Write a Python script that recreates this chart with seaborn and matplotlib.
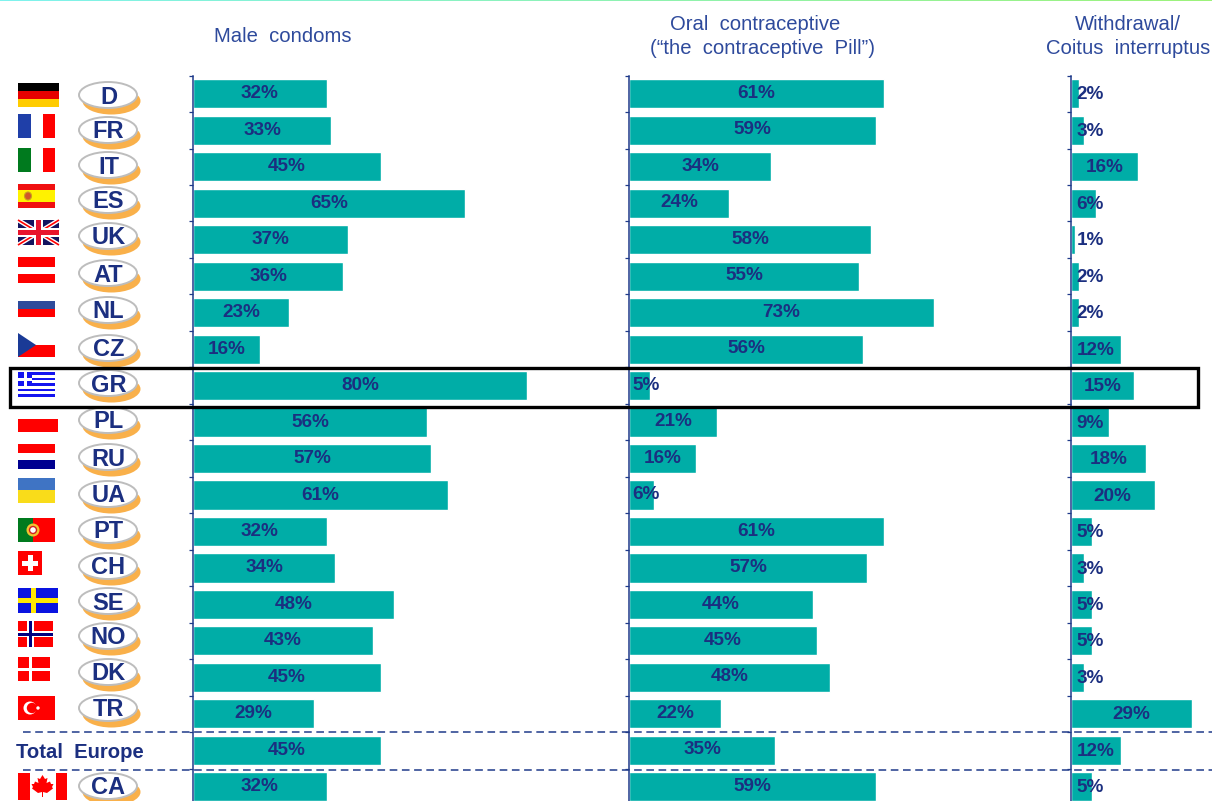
import numpy as np
import pandas as pd
import matplotlib
matplotlib.use("Agg")
import matplotlib.pyplot as plt
from matplotlib.patches import Rectangle, Ellipse, Polygon, Circle
import seaborn as sns

# Survey shares per country, percent
codes = ["D", "FR", "IT", "ES", "UK", "AT", "NL", "CZ", "GR", "PL", "RU", "UA",
         "PT", "CH", "SE", "NO", "DK", "TR", "Total Europe", "CA"]
male_condoms = [32, 33, 45, 65, 37, 36, 23, 16, 80, 56, 57, 61, 32, 34, 48, 43, 45, 29, 45, 32]
oral_pill = [61, 59, 34, 24, 58, 55, 73, 56, 5, 21, 16, 6, 61, 57, 44, 45, 48, 22, 35, 59]
withdrawal = [2, 3, 16, 6, 1, 2, 2, 12, 15, 9, 18, 20, 5, 3, 5, 5, 3, 29, 12, 5]

badge_y = [95, 130, 165, 200, 236, 273, 310, 348, 383, 420, 457, 494, 530, 566, 601, 636, 672, 708, None, 786]

TEAL = "#00ADA7"
NAVY = "#1B2F80"
HEAD = "#2E4A9C"
AXIS = "#1F3A8A"

W, H = 1212, 801
PX_PER_PCT = 4.18
TOP, ROW = 75.6, 36.47

sns.set_theme(style="white")
plt.rcParams["font.family"] = ["Liberation Sans", "DejaVu Sans"]

fig = plt.figure(figsize=(W / 100, H / 100), dpi=100, facecolor="white")


def panel(values, x0, x1, min_label_x, label_shift):
    bottom = TOP + ROW * len(codes)
    ax = fig.add_axes([x0 / W, 1 - bottom / H, (x1 - x0) / W, (bottom - TOP) / H])
    df = pd.DataFrame({"code": codes, "share": values})
    sns.barplot(data=df, y="code", x="share", order=codes, color=TEAL, saturation=1,
                width=0.8, orient="h", ax=ax)
    ax.set_xlim(0, (x1 - x0) / PX_PER_PCT)
    ax.set_ylim(len(codes) - 0.5, -0.5)
    ax.set_xlabel("")
    ax.set_ylabel("")
    ax.set_xticks([])
    ax.set_yticks(np.arange(len(codes)) - 0.5)
    ax.set_yticklabels([])
    ax.tick_params(axis="y", left=True, length=3, width=0.9, color=AXIS, pad=0)
    ax.patch.set_alpha(0)
    for side in ("top", "right", "bottom"):
        ax.spines[side].set_visible(False)
    ax.spines["left"].set_color(AXIS)
    ax.spines["left"].set_linewidth(1.1)
    for i, v in enumerate(values):
        ax.text(max(v / 2, min_label_x), i + label_shift, f"{v}%", ha="center", va="center",
                fontsize=13.6, fontweight="bold", color=NAVY)
    return ax


panel(male_condoms, 193, 620, 4.0, 0.0)
panel(oral_pill, 629, 1060, 4.0, -0.01)
panel(withdrawal, 1071, 1212, 4.6, 0.03)

# Pixel-aligned layer for headers, flags, badges and rules
ov = fig.add_axes([0, 0, 1, 1], zorder=10)
ov.axis("off")
ov.patch.set_alpha(0)

# Thin colour band along the top edge
band = np.linspace(0, 1, 256)[None, :]
cmap = matplotlib.colors.LinearSegmentedColormap.from_list("edge", ["#7FF3EE", "#9DF27A"])
ov.imshow(band, extent=(0, W, 1.5, 0), cmap=cmap, aspect="auto", zorder=1)
ov.set_xlim(0, W)
ov.set_ylim(H, 0)

for txt, x, y in [("Male  condoms", 283, 36.5),
                  ("Oral  contraceptive", 755, 25),
                  ("(“the  contraceptive  Pill”)", 762, 48.5),
                  ("Withdrawal/", 1128, 25),
                  ("Coitus  interruptus", 1128, 48.5)]:
    ov.text(x, y, txt, ha="center", va="center", fontsize=14.6, color=HEAD)


def rect(x0, y0, x1, y1, color, z=2):
    ov.add_patch(Rectangle((x0, y0), x1 - x0, y1 - y0, facecolor=color, edgecolor="none", zorder=z))


def bands(x0, x1, spec):
    for y0, y1, color in spec:
        rect(x0, y0, x1, y1, color)


RED = "#FF0000"
# Flags
bands(18, 59, [(83, 91, "#000000"), (91, 99, "#E60000"), (99, 107, "#FFCC00")])
rect(18, 114, 31, 138, "#1F3FA8")
rect(43, 114, 55, 138, RED)
rect(18, 148, 31, 172, "#007A1E")
rect(43, 148, 55, 172, RED)
bands(18, 55, [(184, 190, "#F01010"), (190, 202, "#FFF200"), (202, 208, "#F01010")])
ov.add_patch(Ellipse((28, 196), 7, 8, facecolor="#D0562A", edgecolor="#C9A020", lw=0.8, zorder=3))

# Union flag
rect(18, 220, 59, 245, "#14145F")
clip_uk = Rectangle((18, 220), 41, 25, transform=ov.transData)
for (xa, ya, xb, yb) in [(18, 220, 59, 245), (18, 245, 59, 220)]:
    ov.plot([xa, xb], [ya, yb], color="white", lw=3.2, zorder=3, clip_path=clip_uk, solid_capstyle="butt")
    ov.plot([xa, xb], [ya, yb], color=RED, lw=1.2, zorder=3, clip_path=clip_uk, solid_capstyle="butt")
rect(34, 220, 43, 245, "white", 4)
rect(18, 228, 59, 237, "white", 4)
rect(36, 220, 41, 245, "#E8142C", 5)
rect(18, 230, 59, 235, "#E8142C", 5)

bands(18, 55, [(257, 267, RED), (274, 283, RED)])
bands(18, 55, [(301, 309, "#2E4B9B"), (309, 317, RED)])
rect(18, 345, 55, 357, RED)
ov.add_patch(Polygon([(18, 333), (36, 345), (18, 357)], facecolor="#1A3A96", edgecolor="none", zorder=3))

# Greek flag
for k in range(9):
    rect(18, 372 + k * 25 / 9, 55, 372 + (k + 1) * 25 / 9, "#1414F0" if k % 2 == 0 else "white")
rect(18, 372, 32, 386, "#1414F0", 3)
rect(24, 372, 26.5, 386, "white", 4)
rect(18, 378, 32, 380.5, "white", 4)

rect(18, 419, 58, 432, RED)
bands(18, 55, [(444, 453, RED), (460, 469, "#000090")])
bands(18, 55, [(478, 490, "#3F74C4"), (490, 503, "#F9DC1A")])
rect(18, 518, 33, 542, "#007A1E")
rect(33, 518, 55, 542, RED)
ov.add_patch(Circle((33, 530), 6.5, facecolor="#F2C230", edgecolor="none", zorder=3))
ov.add_patch(Circle((33, 530), 3.5, facecolor="white", edgecolor="#D02020", lw=1, zorder=4))

rect(18, 551, 42, 575, RED)
rect(27.5, 555, 32.5, 571, "white", 3)
rect(22, 560.5, 38, 565.5, "white", 3)

rect(18, 588, 58, 613, "#0A14E0")
rect(31, 588, 36, 613, "#FFE800", 3)
rect(18, 598, 58, 603, "#FFE800", 3)

rect(18, 621, 53, 647, RED)
rect(27, 621, 34, 647, "white", 3)
rect(18, 631, 53, 637, "white", 3)
rect(29, 621, 32, 647, "#000080", 4)
rect(18, 632.5, 53, 635.5, "#000080", 4)

rect(18, 657, 50, 681, RED)
rect(28.5, 657, 32, 681, "white", 3)
rect(18, 667.5, 50, 670.5, "white", 3)

rect(18, 696, 55, 720, RED)
ov.add_patch(Circle((30, 708), 6.5, facecolor="white", edgecolor="none", zorder=3))
ov.add_patch(Circle((32, 708), 5.2, facecolor=RED, edgecolor="none", zorder=4))
ov.add_patch(Circle((38, 708), 1.7, facecolor="white", edgecolor="none", zorder=4))

rect(18, 773, 30, 800, RED)
rect(56, 773, 67, 800, RED)
leaf = [(42.5, 775), (45, 779), (47.5, 778), (46.5, 783), (50, 781.5), (51, 784), (53.5, 784),
        (52, 787), (53, 788.5), (47, 793), (43, 792), (43, 797), (42, 797), (42, 792), (38, 793),
        (32, 788.5), (33, 787), (31.5, 784), (34, 784), (35, 781.5), (38.5, 783), (37.5, 778), (40, 779)]
ov.add_patch(Polygon(leaf, facecolor=RED, edgecolor="none", zorder=3))

# Oval country badges
for code, y in zip(codes, badge_y):
    if y is None:
        continue
    ov.add_patch(Ellipse((111.5, y + 6), 58, 27, facecolor="#F9B04A", edgecolor="none", zorder=2))
    ov.add_patch(Ellipse((108, y), 58, 26, facecolor="white", edgecolor="#BDBDBD", lw=1.4, zorder=3))
    ov.text(108.5, y + 2, code, ha="center", va="center", fontsize=17, fontweight="bold",
            color=NAVY, zorder=4)

ov.text(16, 752.5, "Total  Europe", ha="left", va="center", fontsize=14.6, fontweight="bold", color=NAVY)

# Rules around the Europe total
for y in (732, 770):
    ov.plot([23, W], [y, y], color=AXIS, lw=1.1, ls=(0, (5, 3)), zorder=6)

# Frame around Greece
ov.add_patch(Rectangle((10, 367.5), 1188, 39, facecolor="none", edgecolor="black", lw=2.4, zorder=7))

fig.savefig("out.png", dpi=100)
